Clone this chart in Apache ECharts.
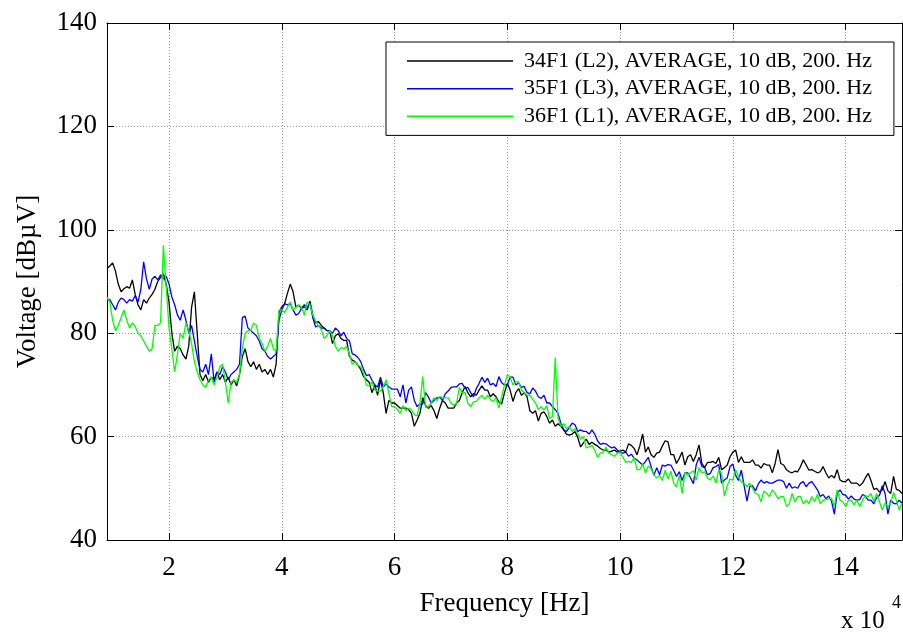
<!DOCTYPE html>
<html>
<head>
<meta charset="utf-8">
<script src="https://cdn.jsdelivr.net/npm/echarts@6/dist/echarts.min.js"></script>
<style>
  html, body { margin: 0; padding: 0; background: #fff; }
  #chart { width: 903px; height: 632px; }
</style>
</head>
<body>
<div id="chart"></div>
<script>
// Spectrum sweep: 9 kHz ... 150 kHz, frequency axis in units of 10^4 Hz
const FREQ_START = 0.9;
const FREQ_STEP = 0.05;

const seriesNames = [
  '34F1 (L2), AVERAGE, 10 dB, 200. Hz',
  '35F1 (L3), AVERAGE, 10 dB, 200. Hz',
  '36F1 (L1), AVERAGE, 10 dB, 200. Hz'
];
const seriesColors = ['#000000', '#0000ff', '#00ff00'];

// Level in dBµV, one row per 10^4 Hz
const level34F1 = [
  92.5, 93.0,
  93.6, 92.0, 89.5, 88.0, 88.6, 89.0, 88.7, 90.3, 87.5, 85.5, 84.5, 86.5, 85.8, 86.8, 87.5, 88.5, 90.0, 90.8, 91.5, 89.5,
  86.0, 80.0, 76.5, 77.5, 77.0, 75.8, 75.0, 77.5, 85.0, 88.0, 80.0, 72.0, 70.8, 72.0, 70.5, 71.5, 71.0, 72.5, 71.0, 72.0,
  70.5, 71.5, 70.0, 71.0, 69.8, 72.0, 75.5, 77.0, 74.5, 73.5, 74.5, 73.0, 74.0, 72.5, 73.0, 72.0, 73.0, 71.5, 74.0, 84.0,
  85.1, 85.7, 87.7, 89.5, 88.0, 85.1, 85.4, 84.8, 85.1, 84.5, 86.2, 83.5, 82.0, 82.3, 81.5, 81.0, 80.5, 80.5, 78.0, 79.5,
  79.9, 79.0, 78.6, 78.6, 75.5, 74.8, 74.5, 73.8, 73.0, 71.6, 71.0, 70.5, 68.5, 70.0, 68.0, 71.0, 68.5, 64.5, 67.0, 66.5,
  66.5, 66.0, 65.5, 65.5, 65.5, 65.2, 64.5, 62.0, 63.2, 64.5, 67.5, 66.0, 65.5, 66.0, 65.0, 63.5, 65.5, 67.0, 66.5, 65.5,
  65.5, 65.5, 66.5, 67.0, 68.5, 69.7, 68.5, 67.7, 68.3, 68.0, 69.0, 69.8, 69.0, 69.0, 67.7, 68.3, 67.7, 66.7, 66.3, 68.5,
  70.3, 69.0, 66.8, 68.5, 69.3, 68.0, 68.5, 67.7, 65.0, 64.5, 65.0, 63.0, 64.5, 64.8, 63.9, 62.6, 63.2, 62.0, 62.5, 62.0,
  61.3, 60.5, 60.3, 60.5, 61.0, 59.8, 58.0, 58.8, 59.5, 58.5, 58.9, 58.5, 58.2, 57.7, 57.4, 57.4, 57.0, 57.2, 57.4, 57.0,
  57.2, 57.4, 57.0, 58.6, 58.3, 57.7, 56.5, 58.2, 60.5, 57.0, 58.0, 56.5, 56.0, 56.8, 57.0, 58.2, 59.2, 59.0, 56.5, 56.5,
  54.8, 55.8, 57.0, 54.5, 56.1, 56.5, 55.2, 56.5, 58.4, 54.8, 54.0, 55.0, 55.0, 55.2, 54.8, 56.0, 53.6, 54.0, 54.5, 56.1,
  57.0, 57.4, 55.0, 56.1, 55.0, 55.0, 55.0, 55.5, 54.5, 54.5, 53.9, 54.8, 54.5, 54.5, 53.0, 54.8, 57.5, 54.8, 54.5, 53.6,
  53.2, 53.0, 53.3, 53.2, 54.2, 55.5, 54.5, 53.5, 53.6, 53.3, 53.0, 53.2, 54.2, 53.0, 52.0, 52.5, 52.0, 53.6, 51.6, 51.3,
  51.3, 51.8, 51.0, 51.0, 51.0, 50.5, 51.0, 52.0, 52.9, 51.5, 49.8, 50.0, 49.3, 49.7, 51.3, 49.5, 49.0, 52.3, 49.8, 49.6,
  49.0
];

const level35F1 = [
  86.5, 86.5,
  85.5, 84.5, 86.0, 86.8, 86.5, 85.8, 86.5, 86.2, 87.3, 86.0, 88.5, 93.8, 90.5, 88.5, 90.5, 91.0, 90.3, 91.3, 90.5, 91.0,
  89.5, 87.0, 85.5, 83.5, 82.5, 84.5, 82.5, 80.0, 81.5, 78.5, 75.5, 73.0, 72.5, 74.0, 72.0, 76.0, 70.5, 72.5, 72.0, 73.5,
  72.5, 71.0, 72.0, 72.5, 73.0, 74.0, 83.0, 83.3, 81.0, 80.5, 80.0, 79.5, 78.5, 77.0, 76.5, 75.5, 75.0, 75.5, 76.0, 82.5,
  84.5, 85.7, 85.5, 85.7, 84.5, 83.5, 83.8, 84.8, 85.5, 85.0, 85.8, 83.0, 81.2, 81.5, 81.0, 81.0, 80.5, 80.5, 80.0, 81.0,
  80.5, 79.5, 80.2, 79.0, 78.5, 76.0, 75.8, 75.3, 74.5, 73.0, 71.8, 72.0, 70.9, 70.0, 69.6, 71.5, 69.6, 70.2, 69.6, 69.2,
  69.2, 69.2, 67.7, 70.0, 66.5, 69.0, 69.6, 67.0, 65.8, 66.3, 66.3, 68.5, 67.7, 66.5, 67.0, 67.5, 67.6, 67.0, 68.3, 68.8,
  69.5, 69.6, 69.6, 70.2, 70.3, 69.3, 69.5, 68.5, 67.7, 69.3, 70.3, 71.5, 70.5, 71.3, 70.0, 70.3, 69.7, 71.6, 70.4, 70.0,
  70.0, 71.5, 71.5, 70.0, 70.4, 69.5, 69.7, 68.5, 68.3, 69.4, 68.8, 67.7, 67.4, 68.0, 66.5, 66.5, 65.8, 65.2, 64.5, 62.6,
  61.3, 61.0, 61.8, 62.6, 62.3, 61.0, 61.3, 61.0, 61.0, 60.5, 61.3, 60.5, 59.2, 58.5, 58.7, 58.6, 58.2, 57.8, 58.0, 57.4,
  57.0, 56.8, 57.0, 56.2, 56.6, 55.8, 55.5, 55.0, 54.5, 55.2, 56.0, 54.2, 52.5, 54.0, 52.6, 54.5, 54.3, 54.6, 54.5, 53.5,
  52.3, 53.2, 51.5, 53.0, 53.0, 52.0, 50.9, 54.5, 56.0, 54.2, 54.0, 52.6, 52.9, 54.0, 54.2, 54.6, 51.0, 51.6, 52.0, 54.2,
  54.7, 52.5, 51.5, 53.5, 50.5, 47.5, 50.3, 50.5, 49.5, 50.8, 51.6, 51.0, 51.3, 51.0, 51.0, 51.3, 51.6, 51.6, 51.3, 50.0,
  51.0, 50.0, 50.3, 50.0, 51.0, 51.3, 50.3, 51.0, 51.3, 50.5, 49.7, 48.4, 48.8, 48.0, 48.5, 47.5, 45.0, 49.0, 49.7, 48.8,
  48.7, 47.9, 48.5, 47.9, 47.7, 47.8, 48.8, 48.5, 47.7, 47.7, 47.0, 48.2, 48.6, 50.5, 49.0, 45.0, 47.7, 47.1, 47.0, 47.7,
  47.1
];

const level36F1 = [
  87.0, 86.0,
  82.5, 80.5, 81.5, 83.0, 84.5, 82.5, 81.0, 82.0, 81.3, 80.0, 79.5, 78.5, 77.5, 76.5, 77.0, 81.5, 81.5, 82.0, 97.0, 89.0,
  81.0, 77.0, 72.5, 76.0, 80.0, 79.0, 82.0, 80.5, 78.0, 74.5, 72.5, 71.0, 70.0, 69.5, 71.0, 71.5, 70.0, 71.5, 73.5, 74.0,
  70.5, 66.5, 70.5, 71.0, 70.5, 72.0, 77.0, 80.0, 80.5, 80.5, 82.0, 81.5, 79.0, 78.0, 76.5, 77.5, 79.0, 77.0, 76.5, 84.5,
  84.5, 84.0, 85.0, 86.0, 84.5, 85.0, 85.5, 85.0, 83.5, 86.0, 85.5, 83.5, 82.3, 81.5, 80.7, 79.0, 79.5, 80.5, 79.5, 77.5,
  76.5, 77.2, 77.0, 77.4, 76.0, 74.0, 74.5, 73.8, 73.5, 72.2, 70.0, 69.8, 70.6, 69.0, 68.8, 68.8, 69.6, 71.0, 68.3, 65.8,
  65.8, 65.2, 64.5, 66.0, 65.0, 65.5, 65.2, 64.3, 64.0, 66.5, 71.6, 65.6, 65.8, 66.5, 67.5, 67.0, 67.8, 67.5, 67.5, 67.5,
  66.5, 66.0, 66.5, 69.5, 68.5, 68.5, 66.5, 65.8, 66.7, 66.8, 67.5, 68.0, 67.2, 68.0, 67.2, 66.8, 67.5, 65.5, 67.7, 70.0,
  72.0, 71.5, 70.0, 70.6, 70.6, 69.0, 68.5, 68.0, 68.0, 67.2, 66.5, 65.2, 65.8, 65.2, 66.0, 63.5, 63.9, 75.3, 63.5, 62.0,
  62.5, 61.5, 62.0, 61.0, 61.5, 60.5, 59.5, 60.0, 57.8, 58.0, 58.3, 57.4, 56.0, 56.8, 57.0, 58.0, 56.8, 56.5, 56.2, 56.8,
  57.0, 56.0, 55.0, 55.2, 55.0, 56.0, 53.6, 53.6, 54.8, 53.0, 54.3, 53.8, 52.6, 52.0, 52.5, 51.5, 53.5, 51.8, 53.3, 51.0,
  50.3, 52.5, 49.0, 53.0, 52.6, 53.0, 53.4, 51.6, 54.0, 53.0, 53.2, 52.0, 51.6, 52.4, 51.0, 53.6, 52.9, 48.5, 50.5, 51.8,
  51.6, 53.6, 52.3, 51.2, 51.0, 50.3, 51.0, 50.0, 49.0, 48.8, 47.4, 49.5, 49.0, 48.4, 49.7, 49.0, 48.0, 48.4, 48.4, 46.5,
  47.0, 49.0, 47.4, 48.4, 48.4, 47.0, 47.7, 47.0, 48.4, 47.4, 48.8, 47.0, 47.7, 47.8, 48.0, 48.1, 46.5, 49.7, 47.7, 47.4,
  46.5, 47.7, 47.7, 46.8, 47.7, 46.5, 47.7, 48.6, 48.4, 49.0, 47.4, 49.0, 47.4, 45.8, 47.1, 46.5, 47.1, 49.2, 47.7, 45.8,
  47.1
];

const levels = [level34F1, level35F1, level36F1];

// Axis ranges and labels
const xRange = [0.9, 15];
const yRange = [40, 140];
const yStep = 20;
const xStep = 2;
const xAxisTitle = 'Frequency [Hz]';
const yAxisTitle = 'Voltage [dBµV]';
const xExponent = ['x 10', '4'];

const FONT = "'Liberation Serif', 'Times New Roman', serif";

const pairs = (vals) => vals.map((v, i) => [+(FREQ_START + i * FREQ_STEP).toFixed(2), v]);

const axisLineStyle = { show: true, onZero: false, lineStyle: { color: '#000', width: 1 } };
const tickStyle = { show: true, inside: true, length: 7, lineStyle: { color: '#000', width: 1 } };
const gridLine = { show: true, showMinLine: false, showMaxLine: false, lineStyle: { color: '#9a9a9a', width: 1, type: [1, 2] } };

const chart = echarts.init(document.getElementById('chart'), null, { renderer: 'canvas' });

chart.setOption({
  animation: false,
  backgroundColor: '#ffffff',
  grid: { left: 107, right: 1, top: 23, bottom: 92, containLabel: false },
  xAxis: [
    {
      type: 'value', min: xRange[0], max: xRange[1],
      splitNumber: 7, minInterval: xStep, maxInterval: xStep,
      axisLine: axisLineStyle, axisTick: tickStyle,
      axisLabel: { showMinLabel: false, showMaxLabel: false, color: '#000', fontFamily: FONT, fontSize: 27, margin: 14 },
      splitLine: gridLine,
      name: xAxisTitle, nameLocation: 'middle', nameGap: 50,
      nameTextStyle: { color: '#000', fontFamily: FONT, fontSize: 27 }
    },
    {
      type: 'value', position: 'top', min: xRange[0], max: xRange[1],
      splitNumber: 7, minInterval: xStep, maxInterval: xStep,
      axisLine: axisLineStyle, axisTick: tickStyle,
      axisLabel: { show: false }, splitLine: { show: false }
    }
  ],
  yAxis: [
    {
      type: 'value', min: yRange[0], max: yRange[1], interval: yStep,
      axisLine: axisLineStyle, axisTick: tickStyle,
      axisLabel: { color: '#000', fontFamily: FONT, fontSize: 27, margin: 10 },
      splitLine: gridLine,
      name: yAxisTitle, nameLocation: 'middle', nameGap: 66, nameRotate: 90,
      nameTextStyle: { color: '#000', fontFamily: FONT, fontSize: 27 }
    },
    {
      type: 'value', position: 'right', min: yRange[0], max: yRange[1], interval: yStep,
      axisLine: axisLineStyle, axisTick: tickStyle,
      axisLabel: { show: false }, splitLine: { show: false }
    }
  ],
  legend: {
    orient: 'vertical', left: 386, top: 42,
    icon: 'rect', itemWidth: 106, itemHeight: 1.6, itemGap: 5.7,
    padding: [8, 22, 8, 21],
    borderColor: '#000', borderWidth: 1, backgroundColor: '#fff',
    textStyle: { color: '#000', fontFamily: FONT, fontSize: 22, padding: [0, 0, 0, 6] },
    data: seriesNames
  },
  graphic: [
    { type: 'text', left: 841, top: 609, style: { text: xExponent[0], font: `25px ${FONT}`, fill: '#000' } },
    { type: 'text', left: 892, top: 594, style: { text: xExponent[1], font: `18px ${FONT}`, fill: '#000' } }
  ],
  series: levels.map((vals, k) => ({
    name: seriesNames[k],
    type: 'line',
    xAxisIndex: 0, yAxisIndex: 0,
    symbol: 'none', showSymbol: false,
    lineStyle: { color: seriesColors[k], width: 1.3 },
    itemStyle: { color: seriesColors[k] },
    data: pairs(vals),
    z: 2 + k
  }))
});
</script>
</body>
</html>
